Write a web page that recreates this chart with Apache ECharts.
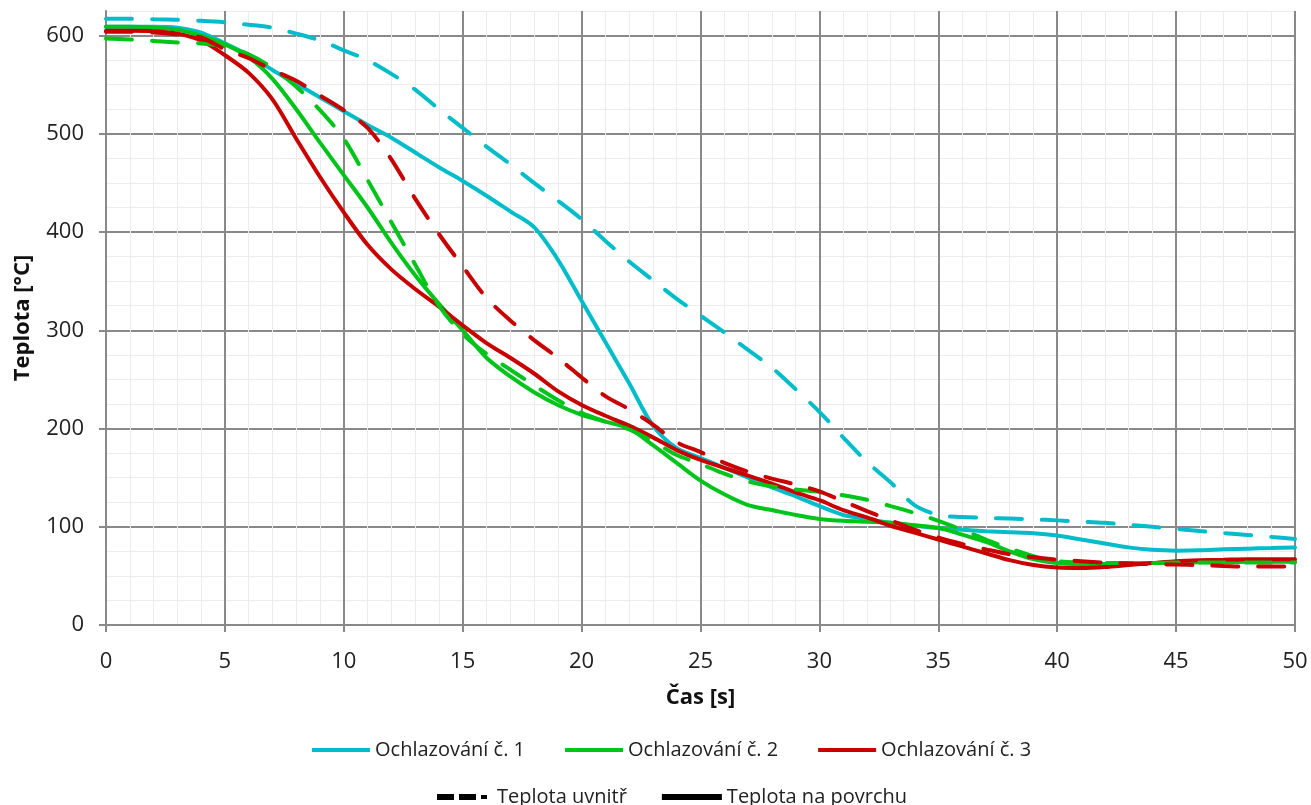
<!DOCTYPE html>
<html>
<head>
<meta charset="utf-8">
<title>Ochlazování</title>
<script src="https://cdn.jsdelivr.net/npm/echarts@6/dist/echarts.min.js"></script>
<style>
	html,body{margin:0;padding:0;background:#fff;}
	#chartMain{width:1311px;height:805px;}
</style>
</head>
<body>
<div id="chartMain"></div>
<script>
// čas [s]
var cas = [0,1,2,3,4,5,6,7,8,9,10,11,12,13,14,15,16,17,18,19,20,21,22,23,24,25,26,27,28,29,30,31,32,33,34,35,36,37,38,39,40,41,42,43,44,45,46,47,48,49,50];
var yTicks = [0,100,200,300,400,500,600];

// Ochlazování č. 1
var ochl1Povrch = [609,609,609,608,603,592,580,565,551,537,523,509,496,481,466,452,437,421,405,372,330,288,246,203,180,170,160,150,140,131,121,112,108,104,101,98.5,97,95.5,94.5,93.5,91,87,83,79,76.5,75.7,76,77,77.7,78.3,79];
var ochl1Uvnitr = [617,617,616.5,616,615,613.5,611,608,602,595,585,575,561,545,525,506,487,469,450,432,413,391,370,351,332,315,298,280,262,240,217,191,166,145,122,112,110,109,108.3,107.5,106.5,105.3,104,102,100,97.8,95.6,93.6,91.6,89.6,87.6];
// Ochlazování č. 2
var ochl2Povrch = [609,609,608,606,600,591,578,556,525,491,458,425,389,356,327,300,272,253,237,224,214,207,200,183,165,147,133,122,117,112,108,106,105,104,101.5,99,92,84.5,75,67,63,62,62,62.5,63,63.5,64,64,64.5,64.5,64.5];
var ochl2Uvnitr = [597,596,594.5,593,592,589,581,567,548,524,495,453,410,367,325,296,276,260,244,229,216,207,199,187,173,164,154,146,141,138,135.5,132,127.5,121,114,106,97,87,78,70,65,63.5,63,63,63,63.5,63.5,63.5,63.5,63.5,63.5];
// Ochlazování č. 3
var ochl3Povrch = [605,605,604.5,602,595,580,562,535,495,456,420,387,362,342,324,305,287,272,256,238,224,213,203,191,178,168,160,152,144,135,127,117,109.5,101,94,87,80,73,66,61,58.5,58,59,61,63,65,66,66.5,67,67,67];
var ochl3Uvnitr = [604,604,603,601,598,586,577,565,554,539,524,506,474,434,398,365,333,310,290,272,252,233,219.6,204,186,176,165,156,149,143,136,126,116,106.5,97,89,82.5,77,72,69,66.5,65,63.5,62.5,62,61.5,61,60,59.5,59.5,59.5];

var nazvy = ['Ochlazování č. 1','Ochlazování č. 2','Ochlazování č. 3'];
var barvy = ['#00BDC9','#00C41A','#C80000'];

function pary(arr){
	var out = [];
	for(var i=0;i<cas.length;i++){
		out.push([cas[i], arr[i]]);
	}
	return out;
}

function krivka(name, arr, color, dashed){
	return {
		name: name,
		type: 'line',
		xAxisIndex: 1,
		yAxisIndex: 1,
		data: pary(arr),
		smooth: 0.3,
		symbol: 'none',
		showSymbol: false,
		color: color,
		lineStyle: {
			width: 4,
			color: color,
			type: dashed ? [26, 20] : 'solid',
			cap: 'round'
		}
	};
}

var fontTxt = "'Open Sans', 'Noto Sans', sans-serif";
var sediva = '#898989';
var carkovana = 'path://M0,0h17v6h-17z M22,0h17v6h-17z M44,1h6v4h-6z';

var chartMain = echarts.init(document.getElementById('chartMain'));
var chartMain_option = {
	animation: false,
	backgroundColor: '#fff',
	grid: {
		left: 106,
		right: 16,
		top: 11,
		bottom: 180,
		containLabel: false
	},
	legend: [
		{
			data: [
				{ name: nazvy[0], icon: 'rect' },
				{ name: nazvy[1], icon: 'rect' },
				{ name: nazvy[2], icon: 'rect' }
			],
			top: 735,
			left: 307,
			itemWidth: 58,
			itemHeight: 4,
			itemGap: 40,
			textStyle: { fontFamily: fontTxt, fontSize: 20, color: '#222' }
		},
		{
			data: [
				{ name: 'Teplota uvnitř', icon: carkovana },
				{ name: 'Teplota na povrchu', icon: 'rect' }
			],
			top: 782,
			left: 432,
			itemWidth: 60,
			itemHeight: 6,
			itemGap: 35,
			textStyle: { fontFamily: fontTxt, fontSize: 20, color: '#222' }
		}
	],
	xAxis: [
		{
			type: 'value',
			position: 'bottom',
			min: 0,
			max: 50,
			interval: 1,
			axisLine: { show: false },
			axisTick: { show: false },
			axisLabel: { show: false },
			splitLine: { show: true, lineStyle: { color: '#ececec', width: 1 } }
		},
		{
			type: 'value',
			position: 'bottom',
			min: 0,
			max: 50,
			interval: 5,
			name: 'Čas [s]',
			nameLocation: 'middle',
			nameGap: 62,
			nameTextStyle: { fontFamily: fontTxt, fontSize: 22, fontWeight: 'bold', color: '#111' },
			axisLine: { show: true, onZero: false, lineStyle: { color: sediva, width: 2 } },
			axisTick: { show: true, length: 7, lineStyle: { color: sediva, width: 2 } },
			axisLabel: { margin: 26, fontFamily: fontTxt, fontSize: 22, color: '#222' },
			splitLine: { show: true, lineStyle: { color: sediva, width: 2 } }
		}
	],
	yAxis: [
		{
			type: 'value',
			min: 0,
			max: 625,
			interval: 25,
			axisLine: { show: false },
			axisTick: { show: false },
			axisLabel: { show: false },
			splitLine: { show: true, lineStyle: { color: '#ececec', width: 1 } }
		},
		{
			type: 'value',
			position: 'left',
			min: 0,
			max: 625,
			interval: 100,
			name: 'Teplota [°C]',
			nameLocation: 'middle',
			nameGap: 72,
			nameTextStyle: { fontFamily: fontTxt, fontSize: 22, fontWeight: 'bold', color: '#111' },
			axisLine: { show: true, onZero: false, lineStyle: { color: sediva, width: 2 } },
			axisTick: { show: true, length: 7, customValues: yTicks, lineStyle: { color: sediva, width: 2 } },
			axisLabel: { margin: 22, customValues: yTicks, fontFamily: fontTxt, fontSize: 22, color: '#222' },
			splitLine: { show: true, lineStyle: { color: [sediva,sediva,sediva,sediva,sediva,sediva,sediva,'#ececec'], width: 2 } }
		}
	],
	series: [
		krivka(nazvy[0], ochl1Povrch, barvy[0], false),
		krivka(nazvy[1], ochl2Povrch, barvy[1], false),
		krivka(nazvy[2], ochl3Povrch, barvy[2], false),
		krivka(nazvy[0], ochl1Uvnitr, barvy[0], true),
		krivka(nazvy[1], ochl2Uvnitr, barvy[1], true),
		krivka(nazvy[2], ochl3Uvnitr, barvy[2], true),
		{
			name: 'Teplota uvnitř',
			type: 'line',
			xAxisIndex: 1,
			yAxisIndex: 1,
			data: [],
			symbol: 'none',
			color: '#000',
			lineStyle: { width: 5, color: '#000', type: [17, 6] }
		},
		{
			name: 'Teplota na povrchu',
			type: 'line',
			xAxisIndex: 1,
			yAxisIndex: 1,
			data: [],
			symbol: 'none',
			color: '#000',
			lineStyle: { width: 5, color: '#000', type: 'solid' }
		}
	]
};
chartMain.setOption(chartMain_option);
</script>
</body>
</html>
